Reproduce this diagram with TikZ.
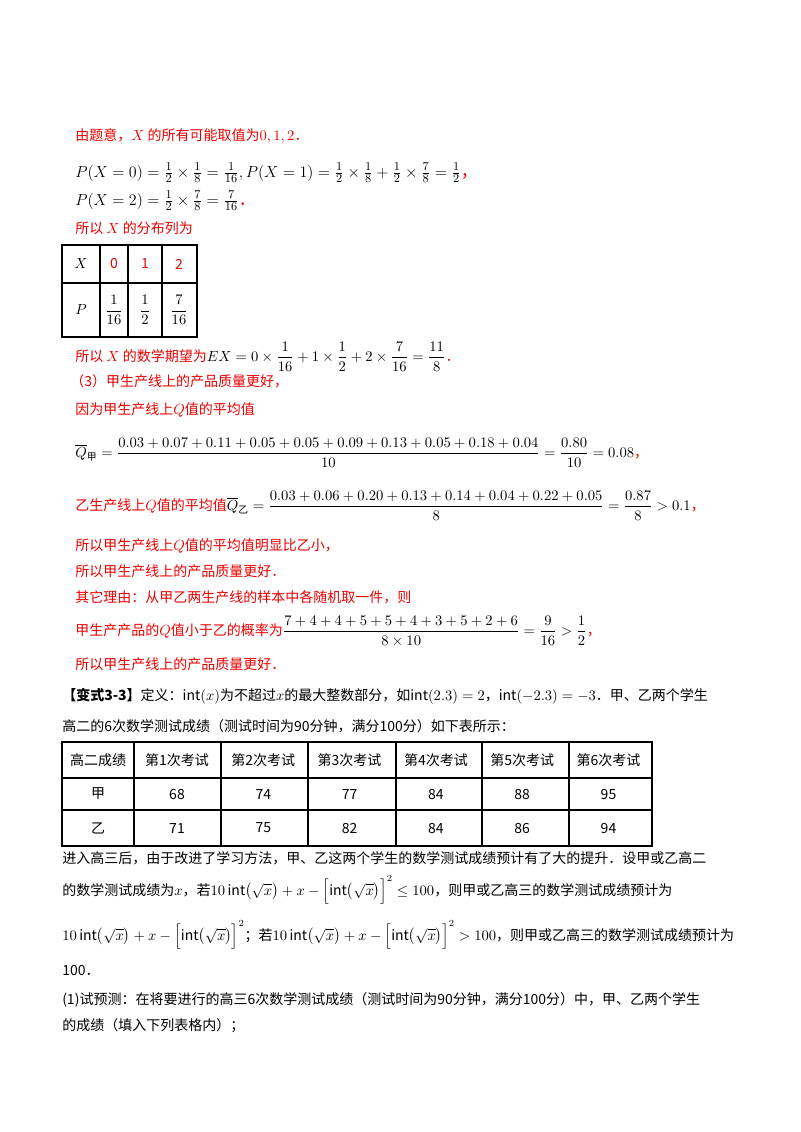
\documentclass[tikz,border=0pt]{standalone}
\usepackage{amsmath}
\usepackage{amssymb}
\usepackage{fontspec}
\setmainfont{Noto Sans CJK SC}
\definecolor{ansred}{RGB}{235,0,0}
\begin{document}
\begin{tikzpicture}[x=0.75pt,y=-0.75pt]
        \tikzset{
        ln/.style={anchor=base west,inner sep=0pt,font=\fontsize{10.5}{12}\selectfont},
        fl/.style={ln,font=\fontsize{12.5}{14}\selectfont},
        rl/.style={ln,text=ansred},
        cell/.style={anchor=center,inner sep=0pt,font=\fontsize{10.5}{12}\selectfont},
        rc/.style={cell,text=ansred},
        grid/.style={draw=black,line width=0.8pt}
        }
        \useasboundingbox (0,0) rectangle (800,1132);
        \node[rl] (l1) at (75,140) {由题意，$X$ 的所有可能取值为$0,1,2$．};
        \node[fl] (l2) at (75,177) {$P(X=0)=\frac12\times\frac18=\frac1{16},P(X=1)=\frac12\times\frac18+\frac12\times\frac78=\frac12$\textcolor{ansred}{，}};
        \node[fl] (l3) at (75,205) {$P(X=2)=\frac12\times\frac78=\frac7{16}$\textcolor{ansred}{．}};
        \node[rl] (l4) at (75,233) {所以 $X$ 的分布列为};
        % distribution table
        \draw[grid] (62,245) rectangle (197,337);
        \draw[grid] (62,283) -- (197,283);
        \foreach \cx in {100,128,162} \draw[grid] (\cx,245) -- (\cx,337);
        \node[cell] (t11) at (81,264) {$X$};
        \node[rc] (t12) at (114,264) {0};
        \node[rc] (t13) at (145,264) {1};
        \node[rc] (t14) at (179,264) {2};
        \node[cell] (t21) at (81,310) {$P$};
        \node[cell] (t22) at (114,310) {$\dfrac1{16}$};
        \node[cell] (t23) at (145,310) {$\dfrac12$};
        \node[cell] (t24) at (179,310) {$\dfrac7{16}$};
        \node[rl] (l5) at (75,361) {所以 $X$ 的数学期望为\textcolor{black}{$EX=0\times\dfrac1{16}+1\times\dfrac12+2\times\dfrac7{16}=\dfrac{11}8$}．};
        \node[rl] (l6) at (70,386) {（3）甲生产线上的产品质量更好，};
        \node[rl] (l7) at (75,414) {因为甲生产线上$Q$值的平均值};
        \node[ln] (l8) at (75,457) {$\overline{Q}_{\text{甲}}=\dfrac{0.03+0.07+0.11+0.05+0.05+0.09+0.13+0.05+0.18+0.04}{10}=\dfrac{0.80}{10}=0.08$\textcolor{ansred}{，}};
        \node[rl] (l9) at (75,510) {乙生产线上$Q$值的平均值\textcolor{black}{$\overline{Q}_{\text{乙}}=\dfrac{0.03+0.06+0.20+0.13+0.14+0.04+0.22+0.05}{8}=\dfrac{0.87}{8}>0.1$}，};
        \node[rl] (l10) at (75,550) {所以甲生产线上$Q$值的平均值明显比乙小，};
        \node[rl] (l11) at (75,576) {所以甲生产线上的产品质量更好．};
        \node[rl] (l12) at (75,602) {其它理由：从甲乙两生产线的样本中各随机取一件，则};
        \node[rl] (l13) at (75,635) {甲生产产品的$Q$值小于乙的概率为\textcolor{black}{$\dfrac{7+4+4+5+5+4+3+5+2+6}{8\times10}=\dfrac9{16}>\dfrac12$}，};
        \node[rl] (l14) at (75,669) {所以甲生产线上的产品质量更好．};
        \node[ln] (l15) at (62,700) {\textbf{【变式3-3】}定义：$\operatorname{int}(x)$为不超过$x$的最大整数部分，如$\operatorname{int}(2.3)=2$，$\operatorname{int}(-2.3)=-3$．甲、乙两个学生};
        \node[ln] (l16) at (62,731) {高二的6次数学测试成绩（测试时间为90分钟，满分100分）如下表所示：};
        % score table
        \draw[grid] (62,742) rectangle (652,846);
        \foreach \ry in {778,810} \draw[grid] (62,\ry) -- (652,\ry);
        \foreach \cx in {134,221,308,396,482,569} \draw[grid] (\cx,742) -- (\cx,846);
        \foreach \lab [count=\i] in {高二成绩,第1次考试,第2次考试,第3次考试,第4次考试,第5次考试,第6次考试}
          \node[cell] (h\i) at ({\i==1 ? 98 : 134+(\i-2)*86.3+43},760) {\lab};
        \foreach \lab [count=\i] in {甲,68,74,77,84,88,95}
          \node[cell] (a\i) at ({\i==1 ? 98 : 134+(\i-2)*86.3+43},794) {\lab};
        \foreach \lab [count=\i] in {乙,71,75,82,84,86,94}
          \node[cell] (b\i) at ({\i==1 ? 98 : 134+(\i-2)*86.3+43},828) {\lab};
        \node[ln] (l17) at (62,863) {进入高三后，由于改进了学习方法，甲、乙这两个学生的数学测试成绩预计有了大的提升．设甲或乙高二};
        \node[ln] (l18) at (62,895) {的数学测试成绩为$x$，若$10\operatorname{int}\bigl(\sqrt x\bigr)+x-\Bigl[\operatorname{int}\bigl(\sqrt x\bigr)\Bigr]^2\le100$，则甲或乙高三的数学测试成绩预计为};
        \node[ln] (l19) at (62,940) {$10\operatorname{int}\bigl(\sqrt x\bigr)+x-\Bigl[\operatorname{int}\bigl(\sqrt x\bigr)\Bigr]^2$；若$10\operatorname{int}\bigl(\sqrt x\bigr)+x-\Bigl[\operatorname{int}\bigl(\sqrt x\bigr)\Bigr]^2>100$，则甲或乙高三的数学测试成绩预计为};
        \node[ln] (l20) at (62,975) {100．};
        \node[ln] (l21) at (62,1004) {(1)试预测：在将要进行的高三6次数学测试成绩（测试时间为90分钟，满分100分）中，甲、乙两个学生};
        \node[ln] (l22) at (62,1030) {的成绩（填入下列表格内）；};
\end{tikzpicture}
\end{document}
